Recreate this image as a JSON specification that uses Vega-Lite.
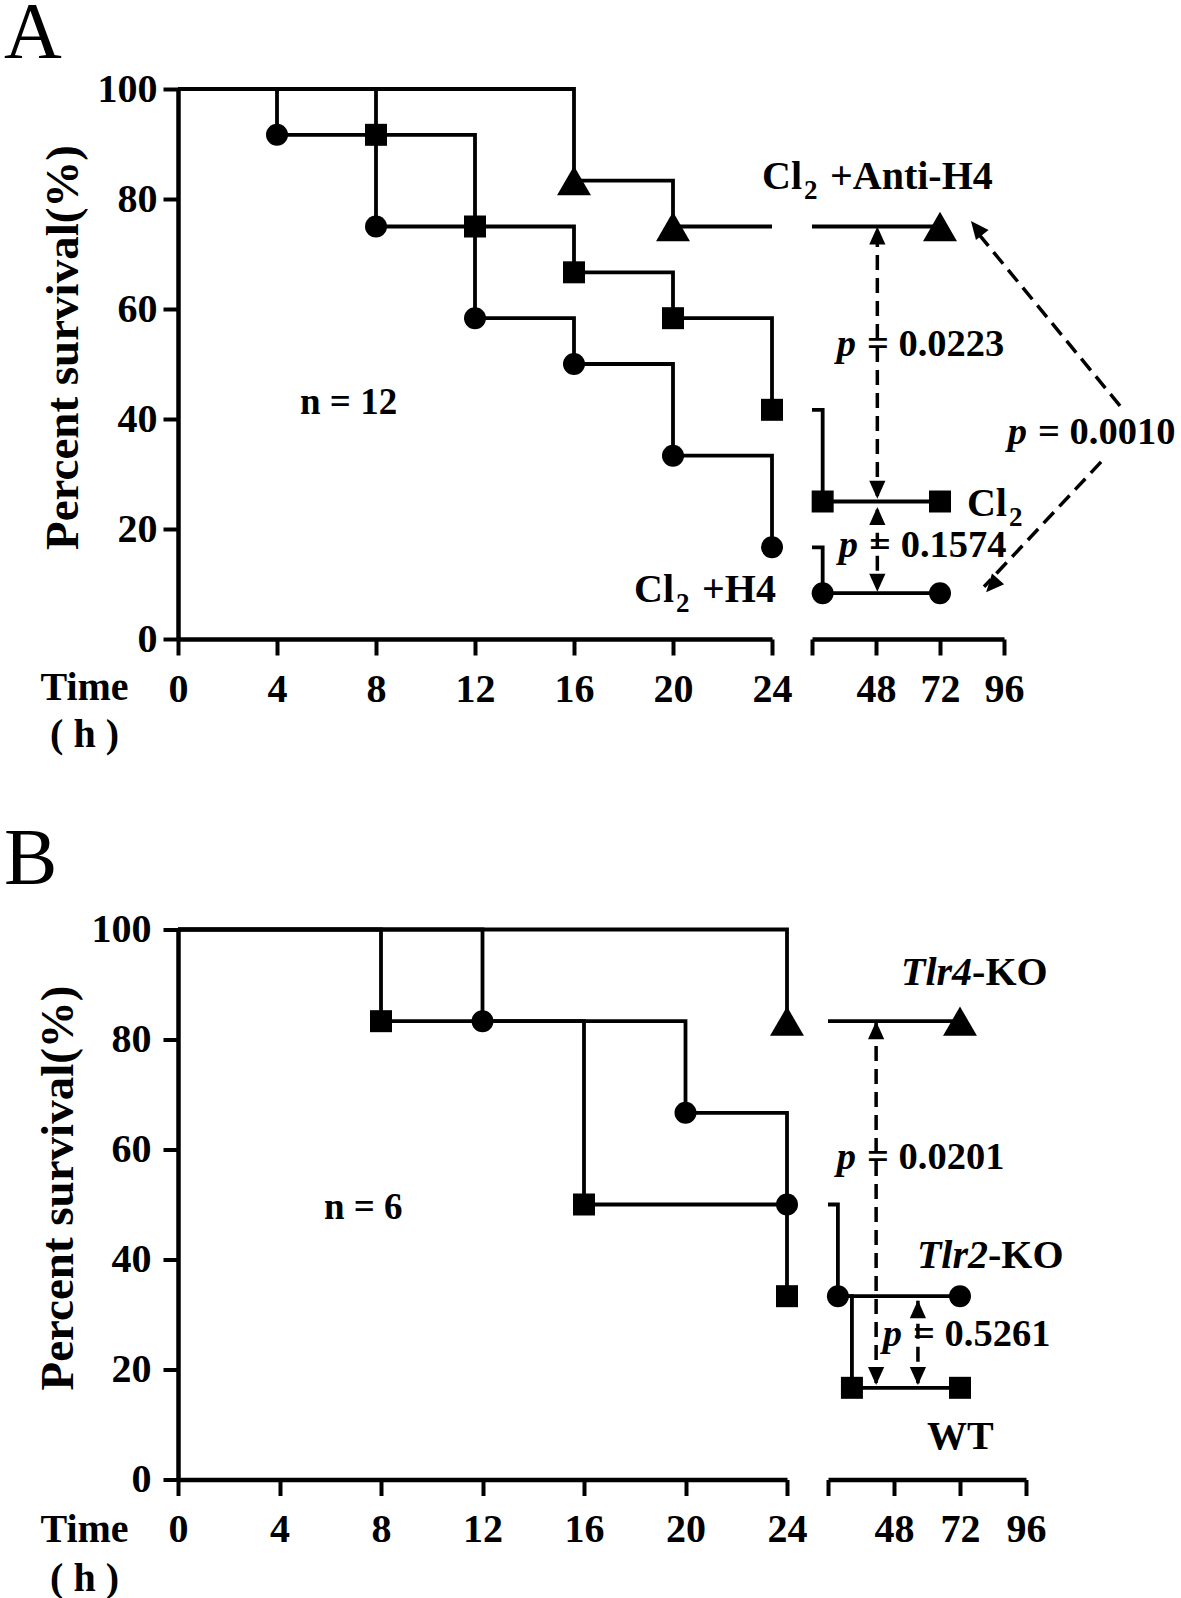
{
  "$schema": "https://vega.github.io/schema/vega-lite/v6.json",
  "background": "white",
  "padding": {"left": 4, "top": -7, "right": 0, "bottom": 0},
  "bounds": "flush",
  "spacing": 840.5,
  "config": {
    "view": {"stroke": null},
    "font": "Liberation Serif",
    "axis": {
      "labelFont": "Liberation Serif", "labelFontWeight": "bold", "labelFontSize": 40, "labelColor": "black",
      "titleFont": "Liberation Serif", "titleFontWeight": "bold", "titleColor": "black",
      "domainColor": "black", "tickColor": "black", "domainWidth": 4.5, "tickWidth": 4,
      "grid": false, "labelOverlap": false, "labelBound": false, "labelFlush": false
    },
    "text": {"font": "Liberation Serif", "fontWeight": "bold", "baseline": "alphabetic", "color": "black"}
  },
  "datasets": {
    "curves": [
      {"panel": "A", "seg": 1, "g": "Cl2 +Anti-H4", "x": 0, "y": 100},
      {"panel": "A", "seg": 1, "g": "Cl2 +Anti-H4", "x": 16, "y": 83.33},
      {"panel": "A", "seg": 1, "g": "Cl2 +Anti-H4", "x": 20, "y": 75},
      {"panel": "A", "seg": 1, "g": "Cl2 +Anti-H4", "x": 24, "y": 75},
      {"panel": "A", "seg": 1, "g": "Cl2", "x": 0, "y": 100},
      {"panel": "A", "seg": 1, "g": "Cl2", "x": 8, "y": 91.67},
      {"panel": "A", "seg": 1, "g": "Cl2", "x": 12, "y": 75},
      {"panel": "A", "seg": 1, "g": "Cl2", "x": 16, "y": 66.67},
      {"panel": "A", "seg": 1, "g": "Cl2", "x": 20, "y": 58.33},
      {"panel": "A", "seg": 1, "g": "Cl2", "x": 24, "y": 41.67},
      {"panel": "A", "seg": 1, "g": "Cl2 +H4", "x": 0, "y": 100},
      {"panel": "A", "seg": 1, "g": "Cl2 +H4", "x": 4, "y": 91.67},
      {"panel": "A", "seg": 1, "g": "Cl2 +H4", "x": 8, "y": 75},
      {"panel": "A", "seg": 1, "g": "Cl2 +H4", "x": 12, "y": 58.33},
      {"panel": "A", "seg": 1, "g": "Cl2 +H4", "x": 16, "y": 50},
      {"panel": "A", "seg": 1, "g": "Cl2 +H4", "x": 20, "y": 33.33},
      {"panel": "A", "seg": 1, "g": "Cl2 +H4", "x": 24, "y": 16.67},
      {"panel": "A", "seg": 2, "g": "Cl2 +Anti-H4", "x": 24, "y": 75},
      {"panel": "A", "seg": 2, "g": "Cl2 +Anti-H4", "x": 72, "y": 75},
      {"panel": "A", "seg": 2, "g": "Cl2", "x": 24, "y": 41.67},
      {"panel": "A", "seg": 2, "g": "Cl2", "x": 28, "y": 25},
      {"panel": "A", "seg": 2, "g": "Cl2", "x": 72, "y": 25},
      {"panel": "A", "seg": 2, "g": "Cl2 +H4", "x": 24, "y": 16.67},
      {"panel": "A", "seg": 2, "g": "Cl2 +H4", "x": 28, "y": 8.33},
      {"panel": "A", "seg": 2, "g": "Cl2 +H4", "x": 72, "y": 8.33},
      {"panel": "B", "seg": 1, "g": "Tlr4-KO", "x": 0, "y": 100},
      {"panel": "B", "seg": 1, "g": "Tlr4-KO", "x": 24, "y": 83.33},
      {"panel": "B", "seg": 1, "g": "Tlr2-KO", "x": 0, "y": 100},
      {"panel": "B", "seg": 1, "g": "Tlr2-KO", "x": 12, "y": 83.33},
      {"panel": "B", "seg": 1, "g": "Tlr2-KO", "x": 20, "y": 66.67},
      {"panel": "B", "seg": 1, "g": "Tlr2-KO", "x": 24, "y": 50},
      {"panel": "B", "seg": 1, "g": "WT", "x": 0, "y": 100},
      {"panel": "B", "seg": 1, "g": "WT", "x": 8, "y": 83.33},
      {"panel": "B", "seg": 1, "g": "WT", "x": 16, "y": 50},
      {"panel": "B", "seg": 1, "g": "WT", "x": 24, "y": 33.33},
      {"panel": "B", "seg": 2, "g": "Tlr4-KO", "x": 24, "y": 83.33},
      {"panel": "B", "seg": 2, "g": "Tlr4-KO", "x": 72, "y": 83.33},
      {"panel": "B", "seg": 2, "g": "Tlr2-KO", "x": 24, "y": 50},
      {"panel": "B", "seg": 2, "g": "Tlr2-KO", "x": 27.6, "y": 33.33},
      {"panel": "B", "seg": 2, "g": "Tlr2-KO", "x": 72, "y": 33.33},
      {"panel": "B", "seg": 2, "g": "WT", "x": 24, "y": 33.33},
      {"panel": "B", "seg": 2, "g": "WT", "x": 32.7, "y": 16.67},
      {"panel": "B", "seg": 2, "g": "WT", "x": 72, "y": 16.67}
    ],
    "events": [
      {"panel": "A", "seg": 1, "g": "Cl2 +Anti-H4", "x": 16, "y": 83.33},
      {"panel": "A", "seg": 1, "g": "Cl2 +Anti-H4", "x": 20, "y": 75},
      {"panel": "A", "seg": 1, "g": "Cl2", "x": 8, "y": 91.67},
      {"panel": "A", "seg": 1, "g": "Cl2", "x": 12, "y": 75},
      {"panel": "A", "seg": 1, "g": "Cl2", "x": 16, "y": 66.67},
      {"panel": "A", "seg": 1, "g": "Cl2", "x": 20, "y": 58.33},
      {"panel": "A", "seg": 1, "g": "Cl2", "x": 24, "y": 41.67},
      {"panel": "A", "seg": 1, "g": "Cl2 +H4", "x": 4, "y": 91.67},
      {"panel": "A", "seg": 1, "g": "Cl2 +H4", "x": 8, "y": 75},
      {"panel": "A", "seg": 1, "g": "Cl2 +H4", "x": 12, "y": 58.33},
      {"panel": "A", "seg": 1, "g": "Cl2 +H4", "x": 16, "y": 50},
      {"panel": "A", "seg": 1, "g": "Cl2 +H4", "x": 20, "y": 33.33},
      {"panel": "A", "seg": 1, "g": "Cl2 +H4", "x": 24, "y": 16.67},
      {"panel": "A", "seg": 2, "g": "Cl2 +Anti-H4", "x": 72, "y": 75},
      {"panel": "A", "seg": 2, "g": "Cl2", "x": 28, "y": 25},
      {"panel": "A", "seg": 2, "g": "Cl2", "x": 72, "y": 25},
      {"panel": "A", "seg": 2, "g": "Cl2 +H4", "x": 28, "y": 8.33},
      {"panel": "A", "seg": 2, "g": "Cl2 +H4", "x": 72, "y": 8.33},
      {"panel": "B", "seg": 1, "g": "Tlr4-KO", "x": 24, "y": 83.33},
      {"panel": "B", "seg": 1, "g": "Tlr2-KO", "x": 12, "y": 83.33},
      {"panel": "B", "seg": 1, "g": "Tlr2-KO", "x": 20, "y": 66.67},
      {"panel": "B", "seg": 1, "g": "Tlr2-KO", "x": 24, "y": 50},
      {"panel": "B", "seg": 1, "g": "WT", "x": 8, "y": 83.33},
      {"panel": "B", "seg": 1, "g": "WT", "x": 16, "y": 50},
      {"panel": "B", "seg": 1, "g": "WT", "x": 24, "y": 33.33},
      {"panel": "B", "seg": 2, "g": "Tlr4-KO", "x": 72, "y": 83.33},
      {"panel": "B", "seg": 2, "g": "Tlr2-KO", "x": 27.6, "y": 33.33},
      {"panel": "B", "seg": 2, "g": "Tlr2-KO", "x": 72, "y": 33.33},
      {"panel": "B", "seg": 2, "g": "WT", "x": 32.7, "y": 16.67},
      {"panel": "B", "seg": 2, "g": "WT", "x": 72, "y": 16.67}
    ],
    "dashes": [
      {"panel": "A", "seg": 2, "x": 48.5, "y": 74, "x2": 48.5, "y2": 26},
      {"panel": "A", "seg": 2, "x": 48.5, "y": 23.5, "x2": 48.5, "y2": 9.5},
      {"panel": "A", "seg": 2, "x": 139.5, "y": 42.4, "x2": 85, "y2": 74.5},
      {"panel": "A", "seg": 2, "x": 132.4, "y": 32.2, "x2": 88.5, "y2": 9.5},
      {"panel": "B", "seg": 2, "x": 41.5, "y": 83, "x2": 41.5, "y2": 17.5},
      {"panel": "B", "seg": 2, "x": 56.7, "y": 32.5, "x2": 56.7, "y2": 17.5}
    ],
    "heads": [
      {"panel": "A", "seg": 2, "x": 48.5, "y": 75, "ang": 0},
      {"panel": "A", "seg": 2, "x": 48.5, "y": 25.5, "ang": 180},
      {"panel": "A", "seg": 2, "x": 48.5, "y": 24, "ang": 0},
      {"panel": "A", "seg": 2, "x": 48.5, "y": 8.6, "ang": 180},
      {"panel": "A", "seg": 2, "x": 83.6, "y": 76, "ang": 321},
      {"panel": "A", "seg": 2, "x": 89.3, "y": 8.5, "ang": 221.5},
      {"panel": "B", "seg": 2, "x": 41.5, "y": 83.3, "ang": 0},
      {"panel": "B", "seg": 2, "x": 41.5, "y": 17.2, "ang": 180},
      {"panel": "B", "seg": 2, "x": 56.7, "y": 32.6, "ang": 0},
      {"panel": "B", "seg": 2, "x": 56.7, "y": 17.2, "ang": 180}
    ],
    "labels": [
      {"panel": "A", "seg": 2, "kind": "group", "x": 20.25, "y": 81.8, "b": "Cl", "sub": "2", "c2": "+Anti-H4"},
      {"panel": "A", "seg": 2, "kind": "group", "x": 97.1, "y": 22.4, "b": "Cl", "sub": "2"},
      {"panel": "A", "seg": 2, "kind": "p", "x": 44.6, "y": 51.5, "pp": "p", "c": "= 0.0223"},
      {"panel": "A", "seg": 2, "kind": "p", "x": 45.4, "y": 14.9, "pp": "p", "c": "= 0.1574"},
      {"panel": "A", "seg": 2, "kind": "p", "x": 108.75, "y": 35.5, "pp": "p", "c": "= 0.0010"},
      {"panel": "A", "seg": 1, "kind": "group", "x": 20.04, "y": 6.7, "b": "Cl", "sub": "2", "c2": "+H4"},
      {"panel": "A", "seg": 1, "kind": "n", "x": 4.93, "y": 40.9, "c": "n = 12"},
      {"panel": "B", "seg": 2, "kind": "group", "x": 76.4, "y": 90, "a": "Tlr4", "c": "-KO"},
      {"panel": "B", "seg": 2, "kind": "group", "x": 82.2, "y": 38.4, "a": "Tlr2", "c": "-KO"},
      {"panel": "B", "seg": 2, "kind": "group", "x": 60, "y": 5.6, "c": "WT"},
      {"panel": "B", "seg": 2, "kind": "p", "x": 38.2, "y": 56.4, "pp": "p", "c": "= 0.0201"},
      {"panel": "B", "seg": 2, "kind": "p", "x": 54.9, "y": 24.2, "pp": "p", "c": "= 0.5261"},
      {"panel": "B", "seg": 1, "kind": "n", "x": 5.75, "y": 47.3, "c": "n = 6"}
    ]
  },
  "vconcat": [
    {
      "bounds": "flush",
      "spacing": 40,
      "hconcat": [
        {
          "width": 594,
          "height": 550,
          "title": {"text": "A", "anchor": "start", "frame": "group", "align": "left", "dx": -174, "fontSize": 80, "fontWeight": "normal", "font": "Liberation Serif", "baseline": "alphabetic", "offset": -68.5, "color": "black"},
          "encoding": {
            "x": {"field": "x", "type": "quantitative", "scale": {"domain": [0, 24], "nice": false, "zero": false},
                  "axis": {"values": [0, 4, 8, 12, 16, 20, 24], "tickSize": 16, "labelPadding": 14, "title": ["Time", "( h )"], "titleX": -94, "titleY": 60, "titleAlign": "center", "titleAnchor": "start", "titleBaseline": "alphabetic", "titleFontSize": 40, "titleLineHeight": 47, "titleAngle": 0}},
            "y": {"field": "y", "type": "quantitative", "scale": {"domain": [0, 100], "nice": false},
                  "axis": {"values": [0, 20, 40, 60, 80, 100], "tickSize": 15, "labelPadding": 6, "title": "Percent survival(%)", "titleX": -101, "titleY": 258, "titleAngle": -90, "titleAlign": "center", "titleAnchor": "start", "titleBaseline": "alphabetic", "titleFontSize": 47}}
          },
          "layer": [
            {"data": {"name": "curves"}, "transform": [{"filter": "datum.panel == 'A' && datum.seg == 1"}],
             "mark": {"type": "line", "interpolate": "step-after", "color": "black", "strokeWidth": 3.8},
             "encoding": {"detail": {"field": "g"}}},
            {"data": {"name": "events"}, "transform": [{"filter": "datum.panel == 'A' && datum.seg == 1 && datum.g == 'Cl2 +Anti-H4'"}],
             "mark": {"type": "point", "shape": "triangle-up", "size": 1150, "filled": true, "color": "black", "opacity": 1, "strokeWidth": 0}},
            {"data": {"name": "events"}, "transform": [{"filter": "datum.panel == 'A' && datum.seg == 1 && datum.g != 'Cl2 +Anti-H4'"}],
             "mark": {"type": "point", "size": 484, "filled": true, "color": "black", "opacity": 1, "strokeWidth": 0},
             "encoding": {"shape": {"field": "g", "type": "nominal", "scale": {"domain": ["Cl2", "Cl2 +H4", "Tlr2-KO", "WT"], "range": ["square", "circle", "circle", "square"]}, "legend": null}}},
            {"data": {"values": [{}]}, "mark": {"type": "rule", "color": "black", "strokeWidth": 4},
             "encoding": {"x": {"datum": 24}, "y": {"datum": 0}, "y2": {"datum": 2}}},
            {"data": {"name": "labels"}, "transform": [{"filter": "datum.panel == 'A' && datum.seg == 1 && datum.b"}],
             "mark": {"type": "text", "align": "right"},
             "encoding": {"text": {"field": "b"}, "size": {"field": "kind", "type": "ordinal", "scale": {"domain": ["group", "p", "n"], "range": [40, 37, 40]}, "legend": null}}},
            {"data": {"name": "labels"}, "transform": [{"filter": "datum.panel == 'A' && datum.seg == 1 && datum.sub"}],
             "mark": {"type": "text", "align": "left", "fontSize": 27, "dx": 2, "dy": 10},
             "encoding": {"text": {"field": "sub"}}},
            {"data": {"name": "labels"}, "transform": [{"filter": "datum.panel == 'A' && datum.seg == 1 && datum.c"}],
             "mark": {"type": "text", "align": "left"},
             "encoding": {"text": {"field": "c"}, "size": {"field": "kind", "type": "ordinal", "scale": {"domain": ["group", "p", "n"], "range": [40, 37, 40]}, "legend": null}}},
            {"data": {"name": "labels"}, "transform": [{"filter": "datum.panel == 'A' && datum.seg == 1 && datum.c2"}],
             "mark": {"type": "text", "align": "left", "dx": 28},
             "encoding": {"text": {"field": "c2"}, "size": {"field": "kind", "type": "ordinal", "scale": {"domain": ["group", "p", "n"], "range": [40, 37, 40]}, "legend": null}}}
          ]
        },
        {
          "width": 192,
          "height": 550,
          "encoding": {
            "x": {"field": "x", "type": "quantitative", "scale": {"domain": [24, 96], "nice": false, "zero": false},
                  "axis": {"values": [24, 48, 72, 96], "labelExpr": "datum.value == 24 ? '' : datum.label", "tickSize": 16, "labelPadding": 14, "title": null}},
            "y": {"field": "y", "type": "quantitative", "scale": {"domain": [0, 100], "nice": false}, "axis": null}
          },
          "layer": [
            {"data": {"name": "curves"}, "transform": [{"filter": "datum.panel == 'A' && datum.seg == 2"}],
             "mark": {"type": "line", "interpolate": "step-after", "color": "black", "strokeWidth": 3.8},
             "encoding": {"detail": {"field": "g"}}},
            {"data": {"name": "dashes"}, "transform": [{"filter": "datum.panel == 'A' && datum.seg == 2"}],
             "mark": {"type": "rule", "color": "black", "strokeWidth": 3.5, "strokeDash": [15, 8]},
             "encoding": {"x2": {"field": "x2"}, "y2": {"field": "y2"}}},
            {"data": {"name": "heads"}, "transform": [{"filter": "datum.panel == 'A' && datum.seg == 2"}],
             "mark": {"type": "point", "shape": "M0,0L-0.9,2L0.9,2Z", "size": 324, "filled": true, "color": "black", "opacity": 1, "strokeWidth": 0},
             "encoding": {"angle": {"field": "ang", "type": "quantitative", "scale": null}}},
            {"data": {"name": "events"}, "transform": [{"filter": "datum.panel == 'A' && datum.seg == 2 && datum.g == 'Cl2 +Anti-H4'"}],
             "mark": {"type": "point", "shape": "triangle-up", "size": 1150, "filled": true, "color": "black", "opacity": 1, "strokeWidth": 0}},
            {"data": {"name": "events"}, "transform": [{"filter": "datum.panel == 'A' && datum.seg == 2 && datum.g != 'Cl2 +Anti-H4'"}],
             "mark": {"type": "point", "size": 484, "filled": true, "color": "black", "opacity": 1, "strokeWidth": 0},
             "encoding": {"shape": {"field": "g", "type": "nominal", "scale": {"domain": ["Cl2", "Cl2 +H4", "Tlr2-KO", "WT"], "range": ["square", "circle", "circle", "square"]}, "legend": null}}},
            {"data": {"values": [{}]}, "mark": {"type": "rule", "color": "black", "strokeWidth": 4},
             "encoding": {"x": {"datum": 24}, "y": {"datum": 0}, "y2": {"datum": 2}}},
            {"data": {"name": "labels"}, "transform": [{"filter": "datum.panel == 'A' && datum.seg == 2 && datum.pp"}],
             "mark": {"type": "text", "fontStyle": "italic", "align": "right", "dx": -11},
             "encoding": {"text": {"field": "pp"}, "size": {"field": "kind", "type": "ordinal", "scale": {"domain": ["group", "p", "n"], "range": [40, 37, 40]}, "legend": null}}},
            {"data": {"name": "labels"}, "transform": [{"filter": "datum.panel == 'A' && datum.seg == 2 && datum.b"}],
             "mark": {"type": "text", "align": "right"},
             "encoding": {"text": {"field": "b"}, "size": {"field": "kind", "type": "ordinal", "scale": {"domain": ["group", "p", "n"], "range": [40, 37, 40]}, "legend": null}}},
            {"data": {"name": "labels"}, "transform": [{"filter": "datum.panel == 'A' && datum.seg == 2 && datum.sub"}],
             "mark": {"type": "text", "align": "left", "fontSize": 27, "dx": 2, "dy": 10},
             "encoding": {"text": {"field": "sub"}}},
            {"data": {"name": "labels"}, "transform": [{"filter": "datum.panel == 'A' && datum.seg == 2 && datum.c"}],
             "mark": {"type": "text", "align": "left"},
             "encoding": {"text": {"field": "c"}, "size": {"field": "kind", "type": "ordinal", "scale": {"domain": ["group", "p", "n"], "range": [40, 37, 40]}, "legend": null}}},
            {"data": {"name": "labels"}, "transform": [{"filter": "datum.panel == 'A' && datum.seg == 2 && datum.c2"}],
             "mark": {"type": "text", "align": "left", "dx": 28},
             "encoding": {"text": {"field": "c2"}, "size": {"field": "kind", "type": "ordinal", "scale": {"domain": ["group", "p", "n"], "range": [40, 37, 40]}, "legend": null}}}
          ]
        }
      ]
    },
    {
      "bounds": "flush",
      "spacing": 41,
      "hconcat": [
        {
          "width": 609,
          "height": 550,
          "title": {"text": "B", "anchor": "start", "frame": "group", "align": "left", "dx": -174, "fontSize": 80, "fontWeight": "normal", "font": "Liberation Serif", "baseline": "alphabetic", "offset": -54, "color": "black"},
          "encoding": {
            "x": {"field": "x", "type": "quantitative", "scale": {"domain": [0, 24], "nice": false, "zero": false},
                  "axis": {"values": [0, 4, 8, 12, 16, 20, 24], "tickSize": 16, "labelPadding": 14, "title": ["Time", "( h )"], "titleX": -94, "titleY": 62, "titleAlign": "center", "titleAnchor": "start", "titleBaseline": "alphabetic", "titleFontSize": 40, "titleLineHeight": 49, "titleAngle": 0}},
            "y": {"field": "y", "type": "quantitative", "scale": {"domain": [0, 100], "nice": false},
                  "axis": {"values": [0, 20, 40, 60, 80, 100], "tickSize": 15, "labelPadding": 12, "title": "Percent survival(%)", "titleX": -106, "titleY": 258, "titleAngle": -90, "titleAlign": "center", "titleAnchor": "start", "titleBaseline": "alphabetic", "titleFontSize": 47}}
          },
          "layer": [
            {"data": {"name": "curves"}, "transform": [{"filter": "datum.panel == 'B' && datum.seg == 1"}],
             "mark": {"type": "line", "interpolate": "step-after", "color": "black", "strokeWidth": 3.8},
             "encoding": {"detail": {"field": "g"}}},
            {"data": {"name": "events"}, "transform": [{"filter": "datum.panel == 'B' && datum.seg == 1 && datum.g == 'Tlr4-KO'"}],
             "mark": {"type": "point", "shape": "triangle-up", "size": 1150, "filled": true, "color": "black", "opacity": 1, "strokeWidth": 0}},
            {"data": {"name": "events"}, "transform": [{"filter": "datum.panel == 'B' && datum.seg == 1 && datum.g != 'Tlr4-KO'"}],
             "mark": {"type": "point", "size": 484, "filled": true, "color": "black", "opacity": 1, "strokeWidth": 0},
             "encoding": {"shape": {"field": "g", "type": "nominal", "scale": {"domain": ["Cl2", "Cl2 +H4", "Tlr2-KO", "WT"], "range": ["square", "circle", "circle", "square"]}, "legend": null}}},
            {"data": {"values": [{}]}, "mark": {"type": "rule", "color": "black", "strokeWidth": 4},
             "encoding": {"x": {"datum": 24}, "y": {"datum": 0}, "y2": {"datum": 2}}},
            {"data": {"name": "labels"}, "transform": [{"filter": "datum.panel == 'B' && datum.seg == 1 && datum.c"}],
             "mark": {"type": "text", "align": "left"},
             "encoding": {"text": {"field": "c"}, "size": {"field": "kind", "type": "ordinal", "scale": {"domain": ["group", "p", "n"], "range": [40, 37, 40]}, "legend": null}}}
          ]
        },
        {
          "width": 198,
          "height": 550,
          "encoding": {
            "x": {"field": "x", "type": "quantitative", "scale": {"domain": [24, 96], "nice": false, "zero": false},
                  "axis": {"values": [24, 48, 72, 96], "labelExpr": "datum.value == 24 ? '' : datum.label", "tickSize": 16, "labelPadding": 14, "title": null}},
            "y": {"field": "y", "type": "quantitative", "scale": {"domain": [0, 100], "nice": false}, "axis": null}
          },
          "layer": [
            {"data": {"name": "curves"}, "transform": [{"filter": "datum.panel == 'B' && datum.seg == 2"}],
             "mark": {"type": "line", "interpolate": "step-after", "color": "black", "strokeWidth": 3.8},
             "encoding": {"detail": {"field": "g"}}},
            {"data": {"name": "dashes"}, "transform": [{"filter": "datum.panel == 'B' && datum.seg == 2"}],
             "mark": {"type": "rule", "color": "black", "strokeWidth": 3.5, "strokeDash": [15, 8]},
             "encoding": {"x2": {"field": "x2"}, "y2": {"field": "y2"}}},
            {"data": {"name": "heads"}, "transform": [{"filter": "datum.panel == 'B' && datum.seg == 2"}],
             "mark": {"type": "point", "shape": "M0,0L-0.9,2L0.9,2Z", "size": 324, "filled": true, "color": "black", "opacity": 1, "strokeWidth": 0},
             "encoding": {"angle": {"field": "ang", "type": "quantitative", "scale": null}}},
            {"data": {"name": "events"}, "transform": [{"filter": "datum.panel == 'B' && datum.seg == 2 && datum.g == 'Tlr4-KO'"}],
             "mark": {"type": "point", "shape": "triangle-up", "size": 1150, "filled": true, "color": "black", "opacity": 1, "strokeWidth": 0}},
            {"data": {"name": "events"}, "transform": [{"filter": "datum.panel == 'B' && datum.seg == 2 && datum.g != 'Tlr4-KO'"}],
             "mark": {"type": "point", "size": 484, "filled": true, "color": "black", "opacity": 1, "strokeWidth": 0},
             "encoding": {"shape": {"field": "g", "type": "nominal", "scale": {"domain": ["Cl2", "Cl2 +H4", "Tlr2-KO", "WT"], "range": ["square", "circle", "circle", "square"]}, "legend": null}}},
            {"data": {"values": [{}]}, "mark": {"type": "rule", "color": "black", "strokeWidth": 4},
             "encoding": {"x": {"datum": 24}, "y": {"datum": 0}, "y2": {"datum": 2}}},
            {"data": {"name": "labels"}, "transform": [{"filter": "datum.panel == 'B' && datum.seg == 2 && datum.a"}],
             "mark": {"type": "text", "fontStyle": "italic", "align": "right"},
             "encoding": {"text": {"field": "a"}, "size": {"field": "kind", "type": "ordinal", "scale": {"domain": ["group", "p", "n"], "range": [40, 37, 40]}, "legend": null}}},
            {"data": {"name": "labels"}, "transform": [{"filter": "datum.panel == 'B' && datum.seg == 2 && datum.pp"}],
             "mark": {"type": "text", "fontStyle": "italic", "align": "right", "dx": -11},
             "encoding": {"text": {"field": "pp"}, "size": {"field": "kind", "type": "ordinal", "scale": {"domain": ["group", "p", "n"], "range": [40, 37, 40]}, "legend": null}}},
            {"data": {"name": "labels"}, "transform": [{"filter": "datum.panel == 'B' && datum.seg == 2 && datum.c"}],
             "mark": {"type": "text", "align": "left"},
             "encoding": {"text": {"field": "c"}, "size": {"field": "kind", "type": "ordinal", "scale": {"domain": ["group", "p", "n"], "range": [40, 37, 40]}, "legend": null}}}
          ]
        }
      ]
    }
  ]
}
